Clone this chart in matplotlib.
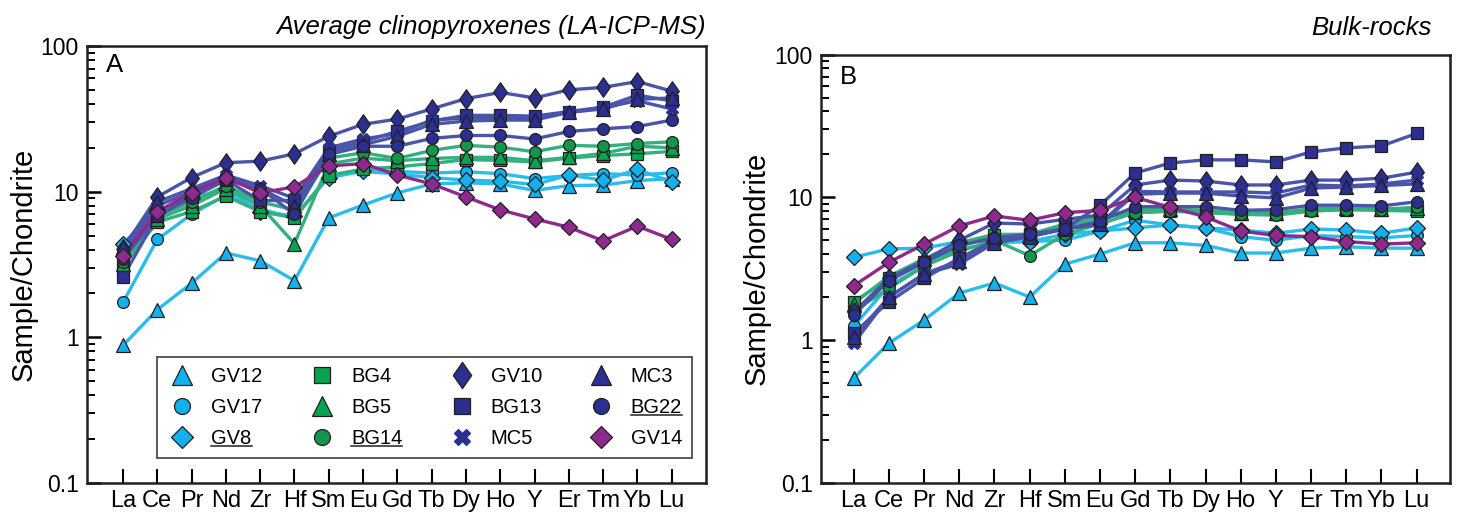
import matplotlib
matplotlib.use("Agg")
import matplotlib.pyplot as plt
from matplotlib.lines import Line2D
from matplotlib.ticker import LogLocator, NullFormatter, FixedLocator, FixedFormatter

elements = ['La', 'Ce', 'Pr', 'Nd', 'Zr', 'Hf', 'Sm', 'Eu', 'Gd', 'Tb', 'Dy', 'Ho', 'Y', 'Er', 'Tm', 'Yb', 'Lu']
samples = ['GV12', 'GV17', 'GV8', 'BG4', 'BG5', 'BG14', 'GV10', 'BG13', 'MC5', 'MC3', 'BG22', 'GV14']
underlined = ['GV8', 'BG14', 'BG22']

# Panel A: average clinopyroxenes (LA-ICP-MS)
cpx_GV12 = [0.88, 1.55, 2.35, 3.8, 3.35, 2.45, 6.6, 8.1, 9.8, 11.3, 11.5, 11.3, 10.2, 11.0, 11.1, 11.9, 12.3]
cpx_GV17 = [1.74, 4.7, 7.0, 9.5, 7.6, 6.6, 13.0, 14.0, 13.8, 13.4, 13.7, 13.3, 12.3, 12.9, 13.3, 13.0, 13.5]
cpx_GV8 = [4.4, 7.5, 9.0, 10.5, 7.3, 6.8, 12.5, 13.8, 13.2, 12.5, 12.0, 11.8, 11.2, 13.0, 12.0, 14.2, 11.7]
cpx_BG4 = [3.1, 6.2, 7.3, 9.3, 7.3, 6.6, 12.9, 14.3, 14.8, 15.6, 16.6, 16.4, 16.0, 17.0, 17.7, 18.2, 18.9]
cpx_BG5 = [3.2, 6.5, 8.0, 10.5, 8.0, 4.4, 15.5, 17.0, 16.3, 16.9, 17.2, 17.2, 16.3, 17.2, 18.3, 20.5, 20.0]
cpx_BG14 = [3.3, 6.8, 8.5, 11.0, 8.5, 7.5, 17.0, 18.5, 16.9, 19.2, 20.8, 20.2, 18.8, 20.8, 20.5, 21.4, 22.0]
cpx_GV10 = [4.05, 9.2, 12.5, 15.8, 16.2, 18.2, 24.0, 29.0, 31.5, 37.0, 43.5, 48.0, 44.0, 50.0, 52.0, 57.0, 49.0]
cpx_BG13 = [2.6, 6.8, 9.5, 12.0, 8.7, 8.7, 19.0, 22.0, 26.0, 30.5, 33.4, 33.4, 33.0, 35.5, 38.0, 46.0, 42.0]
cpx_MC5 = [3.8, 8.0, 10.0, 13.0, 11.0, 9.0, 20.0, 23.0, 25.0, 31.0, 32.0, 32.0, 32.0, 35.0, 38.0, 42.0, 37.0]
cpx_MC3 = [4.2, 8.5, 10.5, 13.0, 10.5, 8.0, 18.0, 21.0, 24.0, 29.0, 30.5, 31.0, 31.0, 35.0, 37.0, 43.0, 44.0]
cpx_BG22 = [3.45, 6.8, 9.1, 12.0, 10.5, 7.0, 18.0, 20.5, 20.5, 23.2, 24.3, 24.3, 23.0, 25.9, 27.0, 28.0, 31.0]
cpx_GV14 = [3.6, 7.3, 9.8, 12.5, 9.8, 10.8, 15.0, 15.6, 13.0, 11.3, 9.2, 7.5, 6.5, 5.7, 4.6, 5.8, 4.7]

# Panel B: bulk rocks
bulk_GV12 = [0.54, 0.95, 1.38, 2.13, 2.51, 2.0, 3.4, 4.0, 4.8, 4.8, 4.6, 4.07, 4.07, 4.4, 4.5, 4.4, 4.4]
bulk_GV17 = [1.25, 2.4, 3.3, 4.3, 4.8, 4.9, 5.0, 5.8, 6.9, 6.4, 6.1, 5.3, 5.0, 5.4, 5.3, 5.2, 5.4]
bulk_GV8 = [3.8, 4.35, 4.4, 4.9, 4.9, 4.9, 5.5, 5.8, 6.1, 6.4, 6.1, 5.9, 5.6, 6.0, 5.9, 5.6, 6.1]
bulk_BG4 = [1.85, 2.7, 3.5, 4.5, 5.4, 5.5, 6.3, 7.2, 7.8, 8.0, 7.9, 7.6, 7.6, 8.1, 8.2, 8.1, 8.0]
bulk_BG5 = [1.8, 2.8, 3.7, 4.8, 5.5, 5.5, 6.5, 7.3, 8.2, 8.3, 8.1, 7.8, 7.8, 8.3, 8.4, 8.3, 8.4]
bulk_BG14 = [1.6, 2.3, 3.3, 4.2, 5.0, 3.9, 5.5, 6.5, 7.8, 8.0, 7.8, 7.6, 7.5, 8.0, 8.2, 8.2, 8.5]
bulk_GV10 = [1.57, 2.7, 3.6, 5.0, 6.6, 6.5, 7.0, 7.5, 12.2, 13.2, 13.0, 12.2, 12.2, 13.2, 13.2, 13.6, 15.0]
bulk_BG13 = [1.12, 1.85, 2.7, 3.75, 5.0, 5.4, 6.0, 8.8, 14.8, 17.4, 18.3, 18.3, 17.7, 20.8, 22.2, 22.9, 28.0]
bulk_MC5 = [0.95, 2.0, 2.9, 3.4, 4.8, 5.3, 6.0, 6.5, 11.0, 10.9, 10.9, 10.9, 10.7, 12.2, 12.0, 12.4, 13.2]
bulk_MC3 = [1.05, 2.0, 2.9, 3.6, 4.8, 5.3, 6.0, 6.5, 10.5, 10.7, 10.7, 10.2, 9.9, 11.6, 11.8, 12.1, 12.4]
bulk_BG22 = [1.5, 2.6, 3.5, 4.6, 5.2, 5.5, 6.0, 6.8, 8.6, 8.6, 8.6, 8.1, 8.2, 8.8, 8.8, 8.7, 9.3]
bulk_GV14 = [2.4, 3.5, 4.7, 6.3, 7.4, 6.9, 7.8, 8.1, 10.0, 8.5, 7.3, 5.8, 5.4, 5.3, 4.9, 4.7, 4.8]

cpx = [cpx_GV12, cpx_GV17, cpx_GV8, cpx_BG4, cpx_BG5, cpx_BG14,
       cpx_GV10, cpx_BG13, cpx_MC5, cpx_MC3, cpx_BG22, cpx_GV14]
bulk = [bulk_GV12, bulk_GV17, bulk_GV8, bulk_BG4, bulk_BG5, bulk_BG14,
        bulk_GV10, bulk_BG13, bulk_MC5, bulk_MC3, bulk_BG22, bulk_GV14]

LB_M, LB_L = '#12B0EC', '#2ABDEB'
GR_M, GR_L = '#06A451', '#33B07E'
GR2_M = '#14964A'
DB_M, DB_L = '#2B2F8F', '#4A55AA'
PU_M, PU_L = '#8E2A8D', '#8E2A8D'
EDGE = '#231F20'

TALL_DIAMOND = [(-0.7, 0), (0, 1), (0.7, 0), (0, -1), (-0.7, 0)]

styles = {
    'GV12': dict(marker='^', ms=10.5, mfc=LB_M, lc=LB_L),
    'GV17': dict(marker='o', ms=8.5, mfc=LB_M, lc=LB_L),
    'GV8':  dict(marker='D', ms=8, mfc=LB_M, lc=LB_L),
    'BG4':  dict(marker='s', ms=8.5, mfc=GR_M, lc=GR_L),
    'BG5':  dict(marker='^', ms=10.5, mfc=GR_M, lc=GR_L),
    'BG14': dict(marker='o', ms=8.5, mfc=GR2_M, lc=GR_L),
    'GV10': dict(marker=TALL_DIAMOND, ms=14, mfc=DB_M, lc=DB_L),
    'BG13': dict(marker='s', ms=8.5, mfc=DB_M, lc=DB_L),
    'MC5':  dict(marker='X', ms=9, mfc=DB_M, lc=DB_L),
    'MC3':  dict(marker='^', ms=10.5, mfc=DB_M, lc=DB_L),
    'BG22': dict(marker='o', ms=8.5, mfc=DB_M, lc=DB_L),
    'GV14': dict(marker='D', ms=8, mfc=PU_M, lc=PU_L),
}

plt.rcParams['font.family'] = ['Liberation Sans', 'DejaVu Sans']
W, H = 1466, 520
fig = plt.figure(figsize=(W / 100, H / 100), dpi=100)

# axes boxes in pixels (left, right, top, bottom)
A_box = (87, 706, 46, 483)
B_box = (821, 1450, 54.6, 482.7)

def add_axes(box):
    l, r, t, b = box
    return fig.add_axes([l / W, (H - b) / H, (r - l) / W, (b - t) / H])

axA = add_axes(A_box)
axB = add_axes(B_box)

x = list(range(len(elements)))

def draw(ax, data, xlim):
    for name, vals in zip(samples, data):
        st = styles[name]
        edge = DB_M if name == 'MC5' else EDGE
        ax.plot(x, vals, color=st['lc'], lw=2.4, zorder=2)
        ax.plot(x, vals, linestyle='none', marker=st['marker'], ms=st['ms'],
                mfc=st['mfc'], mec=edge, mew=0.9, zorder=3)
    ax.set_yscale('log')
    ax.set_ylim(0.1, 100)
    ax.set_xlim(*xlim)
    ax.xaxis.set_major_locator(FixedLocator(x))
    ax.xaxis.set_major_formatter(FixedFormatter(elements))
    ax.yaxis.set_major_locator(FixedLocator([0.1, 1, 10, 100]))
    ax.yaxis.set_major_formatter(FixedFormatter(['0.1', '1', '10', '100']))
    ax.yaxis.set_minor_locator(LogLocator(base=10, subs=range(2, 10)))
    ax.yaxis.set_minor_formatter(NullFormatter())
    ax.tick_params(axis='y', which='major', direction='in', length=10, width=1.8, labelsize=16.5, pad=6)
    ax.tick_params(axis='y', which='minor', direction='in', length=5.5, width=1.4)
    ax.tick_params(axis='x', which='major', direction='in', length=10, width=1.5, labelsize=17, pad=5)
    for s in ax.spines.values():
        s.set_linewidth(1.8)
        s.set_color(EDGE)
    ax.set_ylabel('Sample/Chondrite', fontsize=21, va='center')
    ax.yaxis.set_label_coords(-0.102, 0.5)

draw(axA, cpx, (-1.05, 17.0))
draw(axB, bulk, (-0.93, 16.95))

axA.text(1.0, 1.015, 'Average clinopyroxenes (LA-ICP-MS)', transform=axA.transAxes,
         ha='right', va='bottom', fontsize=18.5, style='italic')
axB.text(0.97, 1.035, 'Bulk-rocks', transform=axB.transAxes,
         ha='right', va='bottom', fontsize=18.5, style='italic')
axA.text(0.03, 0.985, 'A', transform=axA.transAxes, ha='left', va='top', fontsize=18.5)
axB.text(0.03, 0.975, 'B', transform=axB.transAxes, ha='left', va='top', fontsize=18.5)

handles = []
for name in samples:
    st = styles[name]
    edge = DB_M if name == 'MC5' else EDGE
    ms = st['ms'] * 1.35
    handles.append(Line2D([], [], linestyle='none', marker=st['marker'], ms=ms,
                          mfc=st['mfc'], mec=edge, mew=0.9))

l, r, t, b = A_box
lg = (157, 692, 351, 458)
anchor = ((lg[0] - l) / (r - l), (b - lg[3]) / (b - t), (lg[1] - lg[0]) / (r - l), (lg[3] - lg[2]) / (b - t))
leg = axA.legend(handles, samples, ncol=4, loc='lower left', bbox_to_anchor=anchor,
                 mode='expand', fontsize=14.5, frameon=True, fancybox=False, borderpad=0.5,
                 labelspacing=0.6, handletextpad=0.7, columnspacing=1.2, handlelength=1.5,
                 borderaxespad=0)
leg.get_frame().set_edgecolor(EDGE)
leg.get_frame().set_linewidth(1.3)

fig.canvas.draw()
inv = fig.transFigure.inverted()
for txt in leg.get_texts():
    if txt.get_text() in underlined:
        bb = txt.get_window_extent()
        (x0, y0) = inv.transform((bb.x0, bb.y0 + 2))
        (x1, _) = inv.transform((bb.x1, bb.y0 + 2))
        fig.add_artist(Line2D([x0, x1], [y0, y0], transform=fig.transFigure,
                              color=EDGE, lw=1.1))

fig.savefig('out.png', dpi=100)
